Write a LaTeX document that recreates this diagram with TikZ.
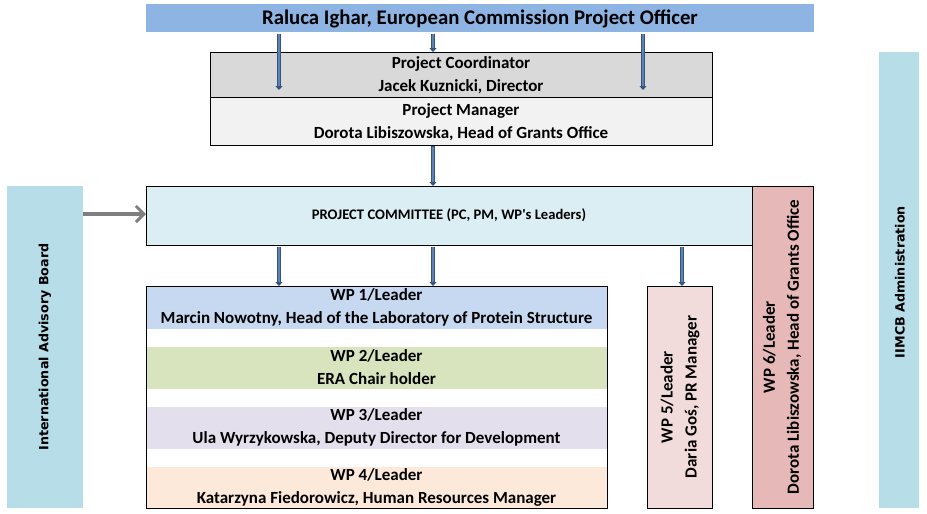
\documentclass[tikz,border=0pt]{standalone}
\usepackage{fontspec}
\setmainfont{Carlito}
\newfontfamily\sidefont{DejaVu Sans}
\usetikzlibrary{arrows.meta}
\definecolor{bannerc}{HTML}{8DB4E2}
\definecolor{pcc}{HTML}{D9D9D9}
\definecolor{pmc}{HTML}{F2F2F2}
\definecolor{comc}{HTML}{DBEEF4}
\definecolor{wpsix}{HTML}{E6B9B8}
\definecolor{wpfive}{HTML}{F2DCDB}
\definecolor{sidec}{HTML}{B7DEE8}
\definecolor{wpone}{HTML}{C6D9F1}
\definecolor{wptwo}{HTML}{D7E4BD}
\definecolor{wpthree}{HTML}{E4DFEC}
\definecolor{wpfour}{HTML}{FDE9D9}
\definecolor{arrc}{HTML}{34537D}
\definecolor{arrin}{HTML}{5F82B4}
\definecolor{grayarr}{HTML}{7F7F7F}
\tikzset{
  box/.style={draw=black, line width=0.9pt, inner sep=0pt, outer sep=0pt},
  plain/.style={inner sep=0pt, outer sep=0pt},
  txt/.style={inner sep=0pt, align=center, font=\bfseries\fontsize{17}{23}\selectfont},
  sidetxt/.style={inner sep=0pt, rotate=90, font=\sidefont\bfseries\fontsize{12.7}{15}\selectfont},
  bluearr/.style={draw=arrc, line width=4.2pt, -{Triangle[length=4pt,width=7pt]},
    postaction={draw=arrin, line width=1.6pt, shorten >=4pt, shorten <=0.8pt, -}},
  grayarrow/.style={draw=grayarr, line width=3.6pt, -{Straight Barb[length=8pt,width=16pt,line width=3pt]}}
}
\begin{document}
\begin{tikzpicture}[x=1pt,y=-1pt]
\useasboundingbox (0,0) rectangle (927,514);
\fill[white] (0,0) rectangle (927,514);
% banner
\node[plain, fill=bannerc, minimum width=668pt, minimum height=28pt] (ban) at (480,18) {};
\node[txt, font=\bfseries\fontsize{20.8}{24}\selectfont] (bant) at (480,19) {Raluca Ighar, European Commission Project Officer};
% PC / PM
\node[box, fill=pcc, minimum width=502pt, minimum height=45pt] (pc) at (461,74.5) {};
\node[box, fill=pmc, minimum width=502pt, minimum height=48pt] (pm) at (461,121) {};
\node[txt] (pct) at (461,75) {Project Coordinator\\Jacek Kuznicki, Director};
\node[txt] (pmt) at (461,122) {Project Manager\\Dorota Libiszowska, Head of Grants Office};
% side boxes
\node[plain, fill=sidec, minimum width=76pt, minimum height=322pt] (iab) at (45,347) {};
\node[sidetxt] (iabt) at (45,347) {International Advisory Board};
\node[plain, fill=sidec, minimum width=40pt, minimum height=456pt] (adm) at (899,280) {};
\node[sidetxt] (admt) at (900,282) {IIMCB Administration};
% committee and WP6
\node[box, fill=comc, minimum width=606pt, minimum height=59pt] (com) at (449,215.5) {};
\node[box, fill=wpsix, minimum width=61pt, minimum height=322pt] (wp6) at (782.5,347) {};
\node[inner sep=0pt, font=\bfseries\fontsize{14.6}{16}\selectfont] (comt) at (449,215) {PROJECT COMMITTEE (PC, PM, WP\textquotesingle s Leaders)};
\node[txt, rotate=90, font=\bfseries\fontsize{17}{24}\selectfont] (wp6t) at (782,347) {WP 6/Leader\\Dorota Libiszowska, Head of Grants Office};
% WP group
\node[box, fill=white, minimum width=461pt, minimum height=222pt] (wpg) at (376.5,397) {};
\node[plain, fill=wpone, minimum width=460pt, minimum height=42pt] (wp1) at (376.5,308) {};
\node[plain, fill=wptwo, minimum width=460pt, minimum height=42pt] (wp2) at (376.5,368) {};
\node[plain, fill=wpthree, minimum width=460pt, minimum height=42pt] (wp3) at (376.5,428) {};
\node[plain, fill=wpfour, minimum width=460pt, minimum height=41pt] (wp4) at (376.5,487.5) {};
\draw[line width=0.9pt] (wpg.north west) rectangle (wpg.south east);
\node[txt] (wp1t) at (376.5,307) {WP 1/Leader\\Marcin Nowotny, Head of the Laboratory of Protein Structure};
\node[txt] (wp2t) at (376.5,367) {WP 2/Leader\\ERA Chair holder};
\node[txt] (wp3t) at (376.5,427) {WP 3/Leader\\Ula Wyrzykowska, Deputy Director for Development};
\node[txt] (wp4t) at (376.5,487) {WP 4/Leader\\Katarzyna Fiedorowicz, Human Resources Manager};
% WP5
\node[box, fill=wpfive, minimum width=65pt, minimum height=222pt] (wp5) at (679.5,397) {};
\node[txt, rotate=90, font=\bfseries\fontsize{17}{24}\selectfont] (wp5t) at (680,397) {WP 5/Leader\\Daria Goś, PR Manager};
% arrows
\coordinate (e1) at (279,90);
\coordinate (e2) at (433,52);
\coordinate (e3) at (643,90);
\coordinate (m1) at (433,146);
\coordinate (m2) at (433,186);
\draw[bluearr] (ban.south -| e1) ++(0,1.5) -- (e1);
\draw[bluearr] (ban.south -| e2) ++(0,1.5) -- (e2);
\draw[bluearr] (ban.south -| e3) ++(0,1.5) -- (e3);
\draw[bluearr] (m1) -- (m2);
\coordinate (c1) at (279,286);
\coordinate (c2) at (433,286);
\coordinate (c5) at (682,286);
\draw[bluearr] (com.south -| c1) ++(0,1.5) -- (c1);
\draw[bluearr] (com.south -| c2) ++(0,1.5) -- (c2);
\draw[bluearr] (com.south -| c5) ++(0,1.5) -- (c5);
\draw[grayarrow] (iab.east |- 0,214) -- (com.west |- 0,214);
\end{tikzpicture}
\end{document}
